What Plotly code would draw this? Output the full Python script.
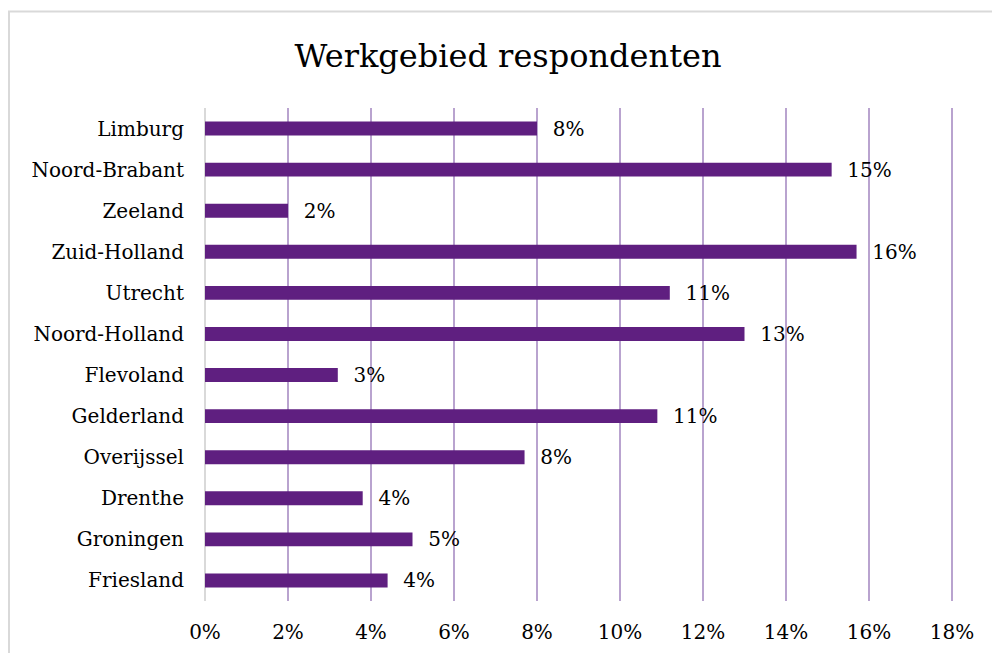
import plotly.graph_objects as go

categories = ["Friesland", "Groningen", "Drenthe", "Overijssel", "Gelderland", "Flevoland",
              "Noord-Holland", "Utrecht", "Zuid-Holland", "Zeeland", "Noord-Brabant", "Limburg"]
values = [0.044, 0.050, 0.038, 0.077, 0.109, 0.032, 0.130, 0.112, 0.157, 0.020, 0.151, 0.080]
tick_vals = [0, 0.02, 0.04, 0.06, 0.08, 0.10, 0.12, 0.14, 0.16, 0.18]
tick_text = ["0%", "2%", "4%", "6%", "8%", "10%", "12%", "14%", "16%", "18%"]

FONT = "DejaVu Serif"
BAR = "#5f1f80"

L, R, T, B = 205, 36, 108, 52
W, H = 992, 653
pw, ph = W - L - R, H - T - B
xmax = 0.18 * pw / 747

fig = go.Figure()
fig.add_trace(go.Bar(
    y=categories, x=values, orientation="h",
    marker=dict(color=BAR, line=dict(width=0)),
    width=0.34,
    text=[f"{round(v*100):.0f}%" for v in values],
    texttemplate="  %{text}",
    textposition="outside",
    constraintext="none",
    cliponaxis=False,
    textfont=dict(family=FONT, size=20, color="#000000"),
))

fig.update_layout(
    width=W, height=H,
    margin=dict(l=L, r=R, t=T, b=B),
    paper_bgcolor="white", plot_bgcolor="white",
    title=dict(text="Werkgebied respondenten", x=508 / W, xanchor="center",
               y=1 - 56 / H, yanchor="middle",
               font=dict(family=FONT, size=32, color="#000000")),
    showlegend=False,
    font=dict(family=FONT, size=20, color="#000000"),
)
fig.update_xaxes(
    range=[0, xmax], tickvals=tick_vals, ticktext=tick_text,
    showgrid=True, gridcolor="#b9a3cf", gridwidth=1.5,
    zeroline=True, zerolinecolor="#d9d9d9", zerolinewidth=2,
    showline=False, ticks="", ticklabelstandoff=17, automargin=False,
    tickfont=dict(family=FONT, size=20, color="#000000"),
)
fig.update_yaxes(
    showgrid=False, zeroline=False, showline=False, ticks="",
    ticklabelstandoff=20, automargin=False,
    tickfont=dict(family=FONT, size=20, color="#000000"),
)
fig.add_shape(type="rect", xref="paper", yref="paper",
              x0=(9 - L) / pw, x1=(W + 20 - L) / pw,
              y0=-(H + 20 - T - ph) / ph, y1=1 + (T - 11.5) / ph,
              line=dict(color="#d9d9d9", width=2), fillcolor="rgba(0,0,0,0)",
              layer="below")
fig.write_html("out.html", config={"displayModeBar": False},
               post_script="document.body.style.margin='0';")
